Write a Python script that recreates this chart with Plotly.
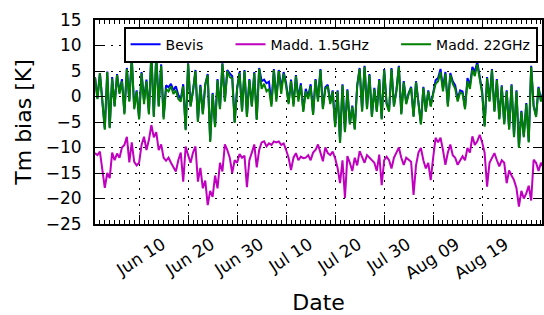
import pandas as pd
import plotly.graph_objects as go

START = "2014-06-01"
N_POINTS = 184  # two samples per day

bevis = [3.8, -0.3, 4.6, -1.3, -6.3, 4.9, -6.0, 3.8, -1.8, 4.4, 0.8, 3.4, -3.2, 5.6, -0.8, 7.6, -2.2, 1.2, -4.3, 4.8,
         -0.8, 3.3, -3.2, 8.8, -3.8, 8.2, -1.8, 6.3, -4.0, 2.2, 1.8, 2.5, 1.2, 2.0, 0.3, -0.5, 2.4, -6.4, 6.5, -1.8,
         1.2, 5.2, -4.8, 2.3, -3.3, 2.4, 4.4, -8.7, 0.7, -5.8, 3.4, -2.3, 6.5, -0.8, 5.2, 4.5, 4.0, -5.0, 1.7, 4.8,
         -2.8, 5.2, -3.8, 3.4, -1.8, 4.8, -4.4, 5.6, 3.0, 3.3, 2.6, 2.9, -1.5, 5.4, -0.5, 5.2, 1.5, 4.8, 2.6, -1.2,
         3.3, -1.5, 4.2, -0.5, 2.6, -2.7, 1.5, 0.0, 2.4, -3.4, 3.4, -0.7, 5.4, -2.2, 1.8, 2.3, -1.2, 1.2, -5.8, 1.2,
         -8.9, 2.4, -6.8, 1.4, -5.3, -1.8, -6.3, 2.2, 5.6, -2.8, 6.0, -2.3, 4.4, -3.8, 1.7, -2.8, 3.4, -4.3, 5.4, -1.3,
         -2.8, 5.6, -1.8, 1.2, 6.0, -3.3, 3.0, -1.3, 0.7, 1.9, -3.8, 3.0, -1.3, -5.3, 1.9, -2.8, 1.2, -1.8, 0.7, 3.2,
         3.6, 5.4, 1.6, 4.8, -1.6, 4.6, 3.0, 2.2, -0.5, 1.2, 1.0, -2.2, 3.6, 2.2, 5.8, 4.8, 6.8, 3.6, 1.0, -5.7,
         3.8, -0.8, 5.4, -2.8, 3.4, -4.3, 2.2, -5.3, 1.2, -6.3, 2.4, -7.8, 1.2, -9.9, -2.8, -7.8, -1.3, -8.8, 6.0, -1.8,
         -3.8, 1.9, -0.8, 1.0]

madd_15 = [-11.1, -11.5, -10.8, -14.5, -17.9, -15.0, -16.0, -11.0, -12.5, -11.2, -12.0, -10.0, -9.5, -7.9, -12.9, -9.0, -12.8, -13.5, -13.0, -9.5,
           -7.9, -10.5, -8.5, -5.6, -8.0, -7.0, -10.5, -9.4, -12.0, -12.6, -12.0, -13.0, -13.8, -14.7, -12.5, -11.0, -16.7, -9.8, -11.5, -13.0,
           -11.0, -9.8, -16.7, -14.0, -18.0, -16.5, -21.3, -18.5, -19.7, -15.5, -18.0, -13.0, -14.7, -9.4, -10.5, -12.0, -15.0, -12.5, -13.0, -11.3,
           -12.0, -11.6, -17.8, -12.5, -11.0, -9.4, -13.9, -10.5, -9.0, -8.8, -9.8, -9.2, -9.5, -8.8, -9.0, -8.8, -9.5, -9.2, -10.5, -12.0,
           -14.4, -12.0, -11.1, -12.5, -11.8, -12.1, -12.0, -11.5, -12.5, -11.0, -10.5, -9.4, -11.0, -12.7, -10.0, -11.1, -11.5, -10.8, -12.1, -14.0,
           -17.0, -12.5, -19.9, -11.7, -13.0, -14.6, -12.0, -13.5, -10.7, -12.0, -13.0, -11.5, -12.0, -12.4, -13.0, -14.6, -11.4, -17.4, -12.5, -11.8,
           -12.5, -14.1, -12.0, -11.0, -10.0, -12.0, -13.4, -12.0, -12.5, -12.8, -19.3, -13.5, -11.0, -10.1, -12.5, -14.1, -13.0, -16.4, -12.0, -8.1,
           -9.0, -8.1, -10.5, -13.4, -11.0, -9.4, -11.5, -12.0, -13.4, -12.5, -11.7, -12.5, -10.1, -11.0, -7.8, -9.5, -8.8, -7.5, -9.0, -11.0,
           -17.7, -13.0, -12.0, -11.1, -12.5, -13.7, -12.5, -13.0, -17.0, -14.5, -15.5, -16.4, -18.0, -21.6, -18.5, -20.0, -19.0, -17.5, -20.4, -12.4,
           -13.0, -14.6, -13.0, -13.9]

madd_22 = [3.8, -0.5, 4.6, -1.5, -6.5, 4.8, -6.2, 3.5, -2.0, 4.2, 0.5, 3.0, -3.5, 5.4, -1.0, 7.5, -2.5, 1.0, -4.5, 4.6,
           -1.5, 3.0, -3.5, 8.2, -4.0, 8.0, -2.0, 6.0, -4.5, 1.5, 1.0, 2.0, 0.5, 1.2, -0.5, -1.0, 2.0, -6.6, 6.4, -2.0,
           1.0, 5.0, -5.0, 2.0, -3.5, 2.2, 4.2, -8.9, 0.5, -6.0, 3.2, -2.5, 6.4, -1.0, 5.0, 3.8, 3.5, -5.2, 1.5, 4.6,
           -3.0, 5.0, -4.0, 3.2, -2.0, 4.6, -4.6, 5.4, 1.5, 2.5, 1.0, 1.5, -2.0, 5.2, -1.0, 5.0, 0.5, 4.5, 2.0, -1.5,
           3.0, -2.0, 4.0, -1.0, 2.2, -3.0, 1.0, -0.5, 2.0, -3.6, 3.2, -1.0, 5.2, -2.5, 1.5, 2.0, -1.5, 1.0, -6.0, 1.0,
           -9.1, 2.2, -7.0, 1.2, -5.5, -2.0, -6.5, 2.0, 5.4, -3.0, 5.8, -2.5, 4.2, -4.0, 1.5, -3.0, 3.2, -4.5, 5.2, -1.5,
           -3.0, 5.4, -2.0, 1.0, 5.8, -3.5, 2.8, -1.5, 0.5, 1.7, -4.0, 2.8, -1.5, -5.5, 1.7, -3.0, 1.0, -2.0, 0.5, 2.5,
           3.0, 4.8, 1.0, 4.5, -2.0, 4.2, 2.5, 1.5, -1.0, 0.8, 0.5, -2.5, 3.0, 1.5, 5.2, 4.0, 6.3, 3.0, 0.5, -5.9,
           3.6, -1.0, 5.2, -3.0, 3.2, -4.5, 2.0, -5.5, 1.0, -6.5, 2.2, -8.0, 1.0, -10.1, -3.0, -8.0, -1.5, -9.0, 5.8, -2.0,
           -4.0, 1.7, -1.0, 0.8]

series_names = ["Bevis", "Madd. 1.5GHz", "Madd. 22GHz"]
tick_dates = ["2014-06-10", "2014-06-20", "2014-06-30", "2014-07-10",
              "2014-07-20", "2014-07-30", "2014-08-09", "2014-08-19"]
tick_labels = ["Jun 10", "Jun 20", "Jun 30", "Jul 10", "Jul 20", "Jul 30", "Aug 09", "Aug 19"]
y_ticks = [-25, -20, -15, -10, -5, 0, 5, 10, 15]

dates = pd.date_range(START, periods=N_POINTS, freq="12h")

FONT = "DejaVu Sans"
NBSP = "\u00a0"
fig = go.Figure()
fig.add_trace(go.Scatter(x=dates, y=bevis, mode="lines", name=series_names[0] + NBSP * 5,
                         line=dict(color="#0000ff", width=2)))
fig.add_trace(go.Scatter(x=dates, y=madd_15, mode="lines", name=series_names[1] + NBSP * 5,
                         line=dict(color="#bf00bf", width=2)))
fig.add_trace(go.Scatter(x=dates, y=madd_22, mode="lines", name=series_names[2],
                         line=dict(color="#008000", width=2)))

fig.update_layout(
    width=544, height=315,
    margin=dict(l=95, r=2, t=20, b=91),
    paper_bgcolor="white", plot_bgcolor="white",
    font=dict(family=FONT, color="black", size=17),
    showlegend=True,
    legend=dict(orientation="h", x=0.527, xanchor="center", y=0.968, yanchor="top",
                bgcolor="white", bordercolor="black", borderwidth=2,
                font=dict(size=14, family=FONT), itemwidth=30, tracegroupgap=0),
)
fig.update_xaxes(
    range=["2014-06-01", "2014-08-31 05:00"], automargin=False,
    tickmode="array", tickvals=tick_dates, ticktext=tick_labels, tickangle=-33,
    ticks="inside", ticklen=9, tickwidth=1, tickcolor="black",
    minor=dict(ticks="inside", ticklen=4, dtick=86400000, tick0="2014-06-01", tickcolor="black", showgrid=False),
    showline=True, linecolor="black", linewidth=2, mirror="allticks",
    showgrid=True, gridcolor="black", gridwidth=1, griddash="2px,6px",
    tickfont=dict(size=17), ticklabelshift=23, ticklabelstandoff=2,
    title=dict(text="Date", font=dict(size=22), standoff=12),
    zeroline=False,
)
fig.update_yaxes(
    range=[-25, 15], tickmode="array", tickvals=y_ticks, automargin=False,
    ticks="inside", ticklen=9, tickwidth=1, tickcolor="black",
    showline=True, linecolor="black", linewidth=2, mirror="allticks",
    showgrid=True, gridcolor="black", gridwidth=1, griddash="2px,6px",
    tickfont=dict(size=17), ticklabelstandoff=8,
    title=dict(text="Tm bias [K]", font=dict(size=22), standoff=8),
    zeroline=False,
)

fig.write_html("out.html", config={"displayModeBar": False},
               post_script="document.body.style.margin='0';document.body.style.overflow='hidden';")
